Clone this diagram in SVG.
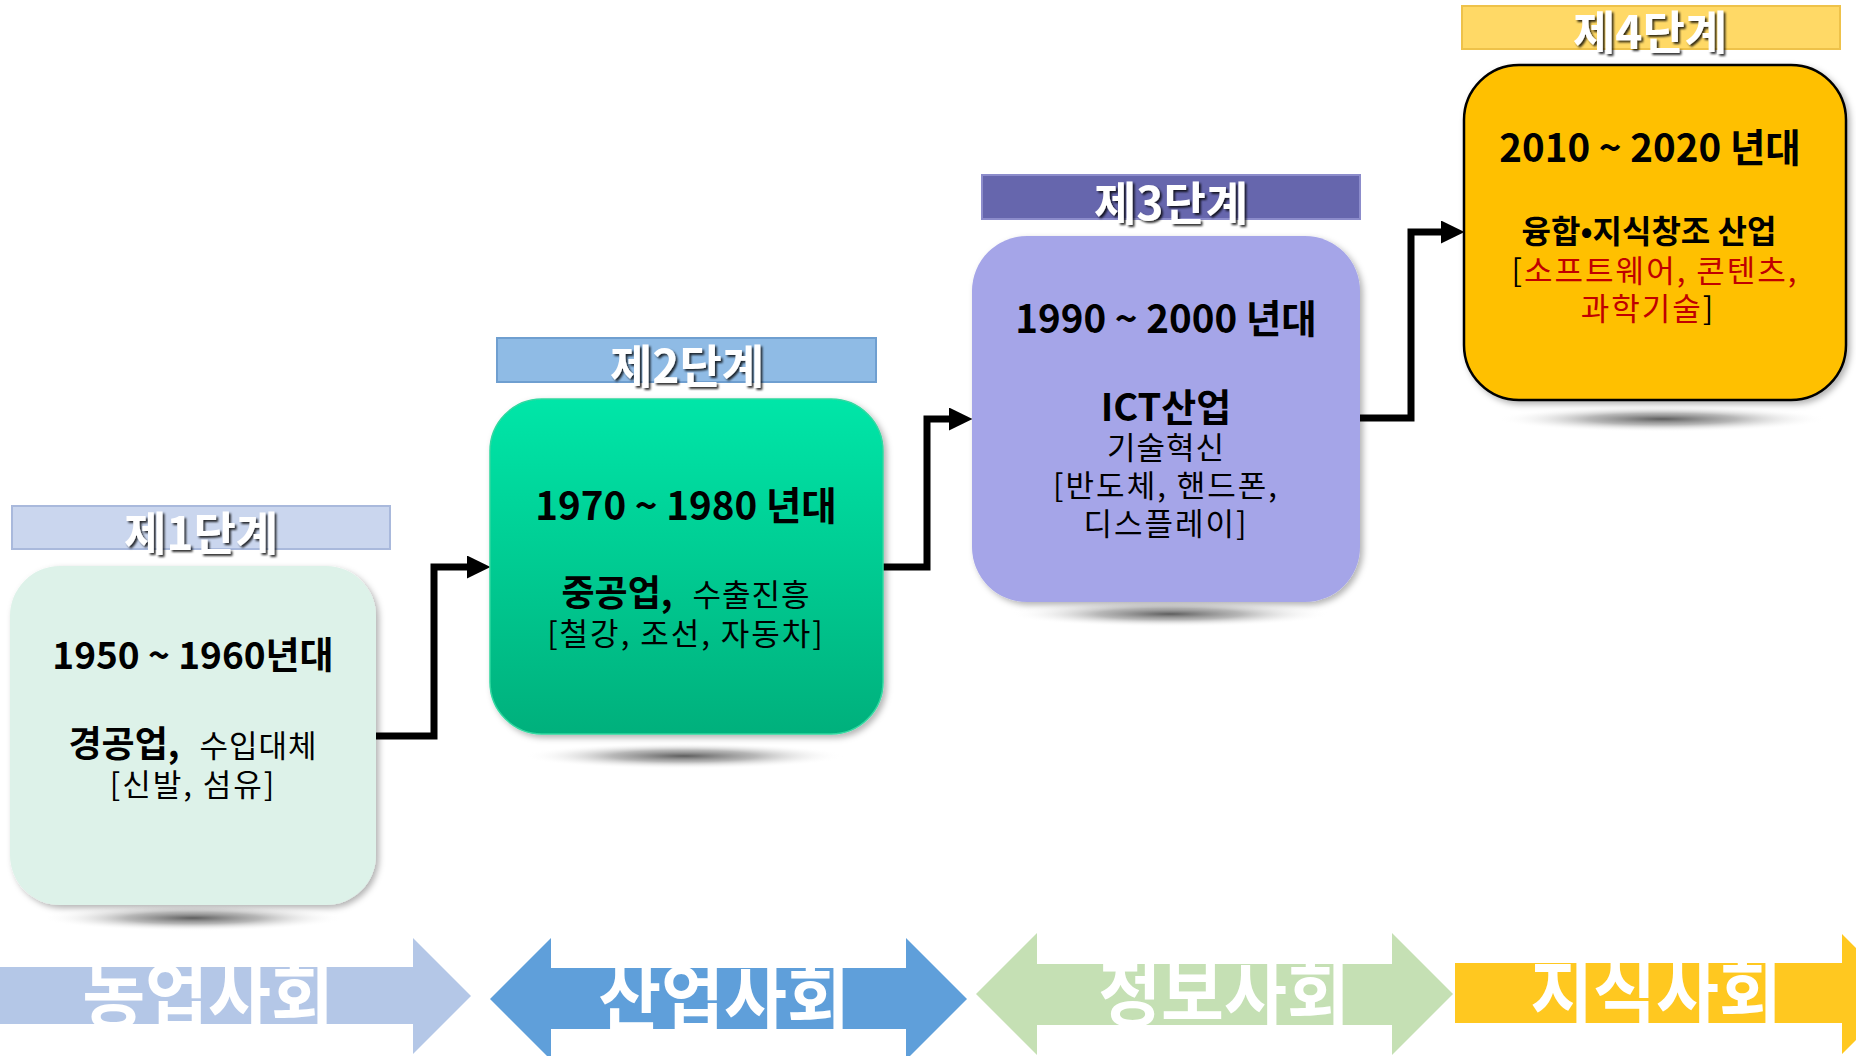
<svg xmlns="http://www.w3.org/2000/svg" width="1856" height="1056" viewBox="0 0 1856 1056">
<style>
text{font-family:"Noto Sans CJK KR","Noto Sans",sans-serif;text-anchor:middle;fill:#000}
.hd{font-size:46px;font-weight:bold;fill:#fff;filter:url(#tshadow)}
.yr{font-size:37px;font-weight:bold}
.yr2{font-size:38.5px;font-weight:bold}
.mb{font-size:36px;font-weight:bold}
.rg{font-size:31px;font-weight:normal;letter-spacing:1px}
.br{font-size:31px;font-weight:normal;letter-spacing:2px}
.bd{font-size:32px;font-weight:bold}
.red{fill:#C00000}
.soc{font-size:72px;font-weight:bold;fill:#fff}
.conn{fill:none;stroke:#000;stroke-width:7;stroke-linejoin:miter;marker-end:url(#ah)}
.box{filter:url(#bshadow)}
</style>
<defs>
<filter id="tshadow" x="-10%" y="-20%" width="130%" height="150%">
<feDropShadow dx="2" dy="2" stdDeviation="1.3" flood-color="#000" flood-opacity="0.8"/>
</filter>
<filter id="bshadow" x="-10%" y="-10%" width="125%" height="125%">
<feDropShadow dx="3" dy="3" stdDeviation="3" flood-color="#000" flood-opacity="0.3"/>
</filter>
<radialGradient id="gshadow" cx="0.5" cy="0.5" r="0.5">
<stop offset="0" stop-color="#555" stop-opacity="0.95"/>
<stop offset="0.45" stop-color="#888" stop-opacity="0.6"/>
<stop offset="1" stop-color="#fff" stop-opacity="0"/>
</radialGradient>
<linearGradient id="g2" x1="0" y1="0" x2="0" y2="1">
<stop offset="0" stop-color="#00E6A8"/>
<stop offset="1" stop-color="#00B07C"/>
</linearGradient>
<marker id="ah" markerUnits="userSpaceOnUse" markerWidth="24" markerHeight="24" refX="0" refY="11.5" orient="auto">
<path d="M0,0 L23.5,11.5 L0,23 z" fill="#000"/>
</marker>
</defs>

<g id="connectors">
<path class="conn" d="M376,736 H434 V567 H467"/>
<path class="conn" d="M883,567 H927 V419 H949"/>
<path class="conn" d="M1360,418 H1411 V232 H1441"/>
</g>

<g id="stage1">
<ellipse cx="193" cy="918" rx="150" ry="13" fill="url(#gshadow)"/>
<rect x="12" y="506" width="378" height="43" fill="#CAD6EE" stroke="#A9B9DC" stroke-width="2"/>
<text class="hd" x="201" y="550">제1단계</text>
<rect class="box" x="10" y="566" width="366" height="339" rx="50" fill="#DDF2E9"/>
<text class="yr" x="193" y="669">1950 ~ 1960년대</text>
<text x="193" y="757"><tspan class="mb">경공업,</tspan><tspan class="rg" dx="20">수입대체</tspan></text>
<text class="br" x="193" y="796">[신발,  섬유]</text>
</g>

<g id="stage2">
<ellipse cx="684" cy="756" rx="160" ry="13" fill="url(#gshadow)"/>
<rect x="497" y="338" width="379" height="44" fill="#8FBBE5" stroke="#6F9FD0" stroke-width="2"/>
<text class="hd" x="687" y="383">제2단계</text>
<rect class="box" x="490" y="399" width="393" height="335" rx="52" fill="url(#g2)" stroke="#30D8A0" stroke-width="1.5"/>
<text class="yr2" x="686" y="520">1970 ~ 1980  년대</text>
<text x="686" y="606"><tspan class="mb">중공업,</tspan><tspan class="rg" dx="20">수출진흥</tspan></text>
<text class="br" x="686" y="645">[철강,  조선,  자동차]</text>
</g>

<g id="stage3">
<ellipse cx="1170" cy="614" rx="160" ry="13" fill="url(#gshadow)"/>
<rect x="982" y="175" width="378" height="44" fill="#6666AD" stroke="#8C8CCB" stroke-width="2"/>
<text class="hd" x="1171" y="220">제3단계</text>
<rect class="box" x="972" y="236" width="388" height="366" rx="55" fill="#A5A5E8"/>
<text class="yr2" x="1166" y="333">1990 ~ 2000  년대</text>
<text class="mb" x="1166" y="421" style="font-size:38px">ICT산업</text>
<text class="rg" x="1166" y="459">기술혁신</text>
<text class="br" x="1166" y="497">[반도체,  핸드폰,</text>
<text class="br" x="1166" y="535">디스플레이]</text>
</g>

<g id="stage4">
<ellipse cx="1662" cy="419" rx="165" ry="13" fill="url(#gshadow)"/>
<rect x="1462" y="6" width="378" height="43" fill="#FFD966" stroke="#EEC24A" stroke-width="2"/>
<text class="hd" x="1650" y="49">제4단계</text>
<rect class="box" x="1464" y="65" width="382" height="335" rx="55" fill="#FFC000" stroke="#000" stroke-width="2.5"/>
<text class="yr2" x="1650" y="162">2010 ~ 2020  년대</text>
<text class="bd" x="1649" y="243">융합•지식창조 산업</text>
<text class="br" x="1655" y="282">[<tspan class="red">소프트웨어,  콘텐츠,</tspan></text>
<text class="br" x="1648" y="320"><tspan class="red">과학기술</tspan>]</text>
</g>

<g id="society1">
<polygon points="0,967 413,967 413,938 471,996 413,1054 413,1024 0,1024" fill="#B4C7E7"/>
<text class="soc" transform="translate(208,1022) scale(0.95,1)">농업사회</text>
</g>
<g id="society2">
<polygon points="490,999 551,938 551,968 906,968 906,938 967,999 906,1060 906,1029 551,1029 551,1060" fill="#5F9FDA"/>
<text class="soc" transform="translate(724,1024) scale(0.95,1)">산업사회</text>
</g>
<g id="society3">
<polygon points="976,994 1037,933 1037,964 1392,964 1392,933 1453,994 1392,1055 1392,1025 1037,1025 1037,1055" fill="#C5E0B4"/>
<text class="soc" transform="translate(1224,1020) scale(0.95,1)">정보사회</text>
</g>
<g id="society4">
<polygon points="1455,963 1842,963 1842,934 1902,994 1842,1054 1842,1023 1455,1023" fill="#FFC820"/>
<text class="soc" transform="translate(1656,1018) scale(0.95,1)">지식사회</text>
</g>
</svg>
